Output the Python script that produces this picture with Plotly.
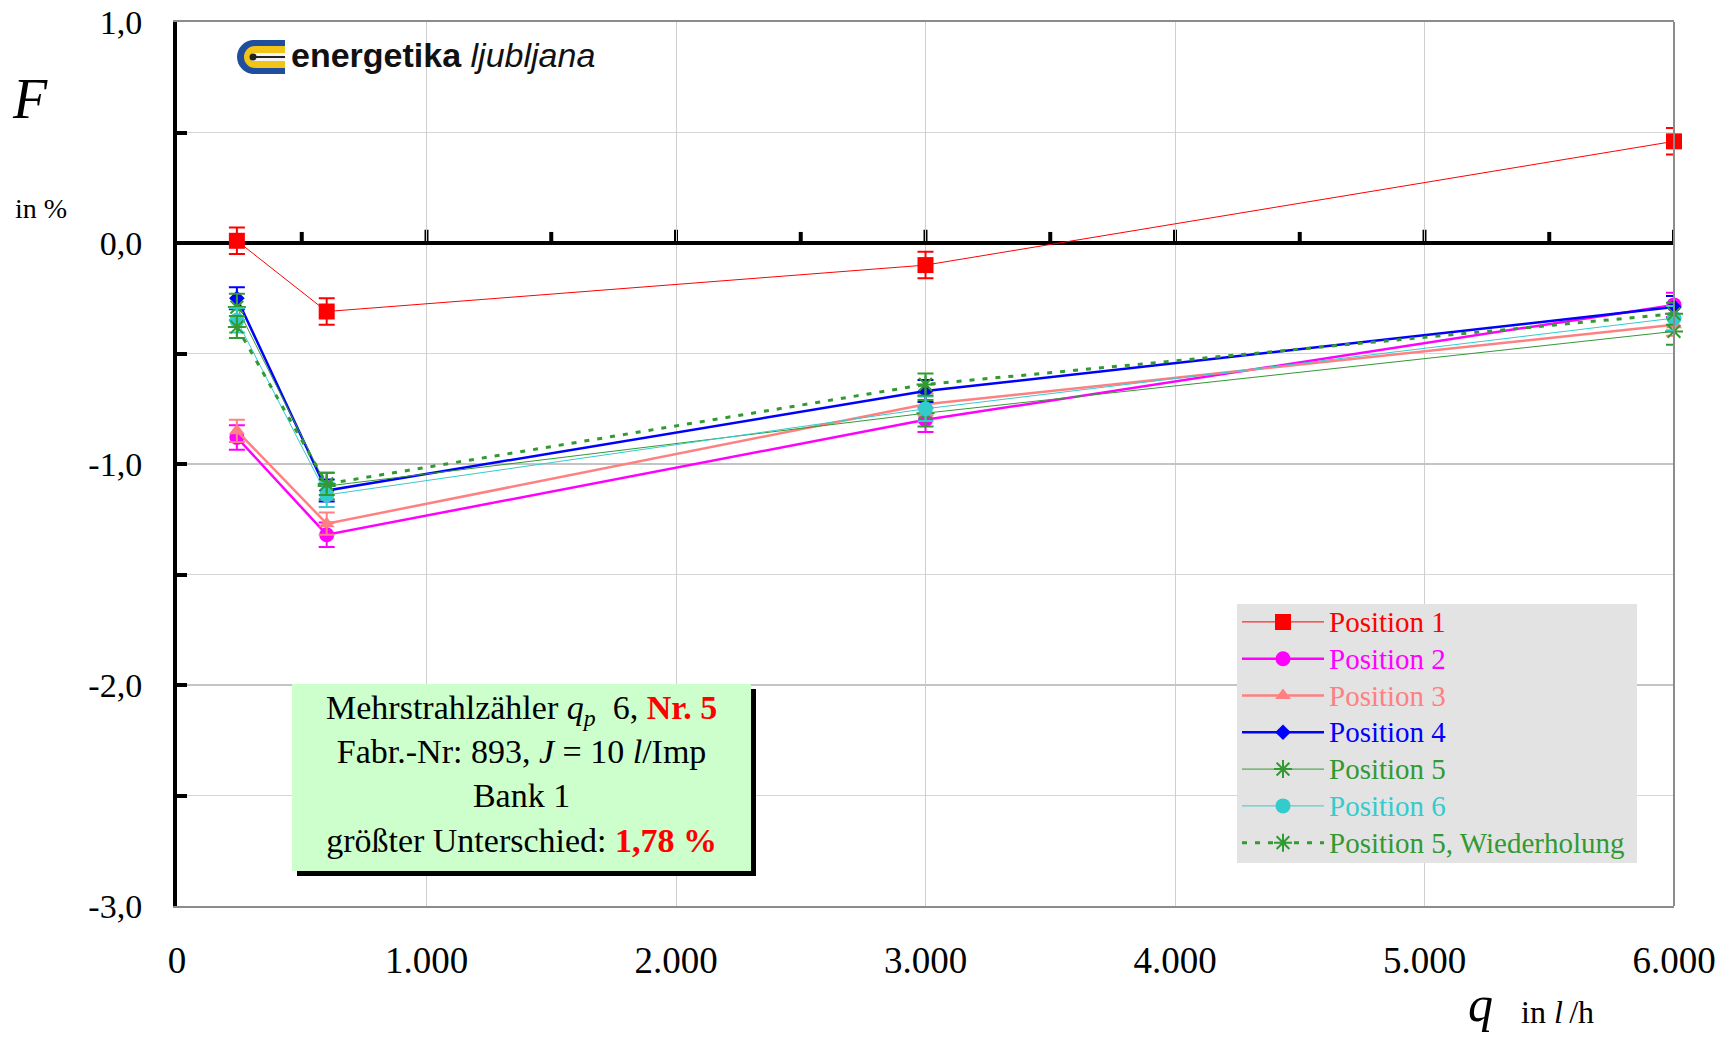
import plotly.graph_objects as go

# Flow rates q in l/h
Q = [240, 600, 3000, 6000]

# Error F in % for each meter position
POS_1 = [0.01, -0.31, -0.10, 0.46]
POS_2 = [-0.88, -1.32, -0.80, -0.28]
POS_3 = [-0.85, -1.27, -0.73, -0.37]
POS_4 = [-0.25, -1.12, -0.67, -0.29]
POS_5 = [-0.29, -1.10, -0.77, -0.40]
POS_6 = [-0.35, -1.14, -0.75, -0.34]
POS_5_REP = [-0.38, -1.09, -0.64, -0.32]

# Measurement uncertainty (+/-) per series, in %
U_1, U_2, U_3, U_4, U_5, U_6, U_5_REP = 0.06, 0.055, 0.05, 0.05, 0.06, 0.055, 0.05

SERIES_NAMES = ["Position 1", "Position 2", "Position 3", "Position 4",
                "Position 5", "Position 6", "Position 5, Wiederholung"]

X_TICKS = [0, 1000, 2000, 3000, 4000, 5000, 6000]
X_TICK_LABELS = ["0", "1.000", "2.000", "3.000", "4.000", "5.000", "6.000"]
Y_TICKS = [-3.0, -2.0, -1.0, 0.0, 1.0]
Y_TICK_LABELS = ["-3,0", "-2,0", "-1,0", "0,0", "1,0"]
ZERO_AXIS_TICKS = [500, 1000, 1500, 2000, 2500, 3000, 3500, 4000, 4500, 5000, 5500, 6000]

SERIF = "Liberation Serif, Times New Roman, serif"
SANS = "Liberation Sans, Arial, sans-serif"

# Figure and plot-area geometry (pixels)
W, H = 1733, 1038
L, R, T, B = 177, 1674, 22, 906


def px(x):
    return (x - L) / (R - L)


def py(y):
    return (B - y) / (B - T)


styles = [
    dict(color="#FF0000", width=1, dash="solid", symbol="square", size=16, u=U_1),
    dict(color="#FF00FF", width=2.5, dash="solid", symbol="circle", size=15, u=U_2),
    dict(color="#FF8080", width=2.5, dash="solid", symbol="triangle-up", size=14, u=U_3),
    dict(color="#0000FF", width=2.5, dash="solid", symbol="diamond", size=12, u=U_4),
    dict(color="#339933", width=1, dash="solid", symbol="asterisk-open", size=15, u=U_5),
    dict(color="#33CCCC", width=1, dash="solid", symbol="circle", size=15, u=U_6),
    dict(color="#339933", width=3, dash="5px,8px", symbol="asterisk-open", size=15, u=U_5_REP),
]
series = [POS_1, POS_2, POS_3, POS_4, POS_5, POS_6, POS_5_REP]

fig = go.Figure()
for name, values, st in zip(SERIES_NAMES, series, styles):
    open_marker = st["symbol"].endswith("-open")
    fig.add_trace(go.Scatter(
        x=Q, y=values, mode="lines+markers",
        name=f"<span style='color:{st['color']};font-size:29px'>{name}</span>",
        line=dict(color=st["color"], width=st["width"], dash=st["dash"]),
        marker=dict(symbol=st["symbol"], size=st["size"], color=st["color"],
                    line=dict(color=st["color"], width=2 if open_marker else 0)),
        error_y=dict(type="constant", value=st["u"], color=st["color"],
                     thickness=2, width=8),
        cliponaxis=False,
    ))

shapes = []
# tick marks along the zero line (x axis crosses at F = 0)
for xt in ZERO_AXIS_TICKS:
    h = 0.06 if xt % 1000 == 0 else 0.05
    shapes.append(dict(type="line", xref="x", yref="y", x0=xt, x1=xt, y0=0, y1=h,
                       line=dict(color="black", width=4), layer="below"))
# right frame edge
shapes.append(dict(type="line", xref="paper", yref="paper", x0=1, x1=1, y0=0, y1=1,
                   line=dict(color="#8C8C8C", width=2)))
# info box with drop shadow
shapes.append(dict(type="rect", xref="paper", yref="paper",
                   x0=px(297), x1=px(756), y0=py(876), y1=py(689),
                   fillcolor="black", line=dict(width=0)))
shapes.append(dict(type="rect", xref="paper", yref="paper",
                   x0=px(292), x1=px(751), y0=py(871), y1=py(684),
                   fillcolor="#CCFFCC", line=dict(width=0)))
# legend panel
shapes.append(dict(type="rect", xref="paper", yref="paper",
                   x0=px(1237), x1=px(1637), y0=py(863), y1=py(604),
                   fillcolor="#E3E3E3", line=dict(width=0)))


def prect(x0, y0, x1, y1, color, kind="rect"):
    return dict(type=kind, xref="paper", yref="paper",
                x0=px(x0), x1=px(x1), y0=py(y1), y1=py(y0),
                fillcolor=color, line=dict(width=0))


# company logo emblem
shapes += [
    prect(252, 40, 285, 74, "#1F4E9C"),
    prect(237, 40, 271, 74, "#1F4E9C", "circle"),
    prect(256, 46, 285, 68, "#F2C417"),
    prect(244, 46, 266, 68, "#F2C417", "circle"),
    prect(252, 53, 285, 61, "#F4F4F4"),
    dict(type="line", xref="paper", yref="paper", x0=px(253), x1=px(285),
         y0=py(57), y1=py(57), line=dict(color="#222222", width=2)),
    prect(249.5, 53.5, 256.5, 60.5, "#222222", "circle"),
]

annotations = [
    dict(text="<i>F</i>", x=px(30), y=py(99), font=dict(size=56)),
    dict(text="in %", x=px(41), y=py(208), font=dict(size=28)),
    dict(text="<i>q</i>", x=px(1480), y=py(1004), font=dict(size=50)),
    dict(text="in <i>l</i>\u2009/h", x=px(1519), y=py(1012), xanchor="left",
         font=dict(size=32)),
    dict(text="<b>energetika</b> <i>ljubljana</i>", x=px(289), y=py(55), xanchor="left",
         font=dict(family=SANS, size=34, color="#111111")),
    dict(text=("Mehrstrahlzähler <i>q</i><sub><i>p</i></sub>\u00a0\u00a06, "
               "<b><span style='color:#FF0000'>Nr. 5</span></b><br>"
               "Fabr.-Nr: 893, <i>J</i> = 10 <i>l</i>/Imp<br>"
               "Bank 1<br>"
               "größter Unterschied: <b><span style='color:#FF0000'>1,78 %</span></b>"),
         x=px(521.5), y=py(774), font=dict(size=34), align="center"),
]
for a in annotations:
    a.setdefault("xref", "paper")
    a.setdefault("yref", "paper")
    a.setdefault("showarrow", False)
    a.setdefault("xanchor", "center")
    a.setdefault("yanchor", "middle")
    a["font"].setdefault("family", SERIF)
    a["font"].setdefault("color", "black")

fig.update_layout(
    width=W, height=H,
    margin=dict(l=L, r=W - R, t=T, b=H - B, autoexpand=False),
    paper_bgcolor="white", plot_bgcolor="white",
    font=dict(family=SERIF, color="black"),
    showlegend=True,
    legend=dict(x=px(1237), y=py(598.5), xanchor="left", yanchor="top",
                bgcolor="rgba(0,0,0,0)", borderwidth=0, itemwidth=82,
                font=dict(family=SERIF, size=26), tracegroupgap=0,
                itemclick=False, itemdoubleclick=False),
    xaxis=dict(range=[0, 6000], tickvals=X_TICKS, ticktext=X_TICK_LABELS,
               showline=True, linecolor="#8C8C8C", linewidth=2, mirror=True,
               showgrid=True, gridcolor="#CFCFCF", gridwidth=1, zeroline=False,
               ticks="", tickfont=dict(family=SERIF, size=37, color="black"),
               ticklabelstandoff=21),
    yaxis=dict(range=[-3, 1], tickvals=Y_TICKS, ticktext=Y_TICK_LABELS,
               showline=True, linecolor="black", linewidth=4, mirror=False,
               ticks="inside", ticklen=10, tickwidth=4, tickcolor="black",
               minor=dict(dtick=0.5, ticks="inside", ticklen=10, tickwidth=4,
                          tickcolor="black", showgrid=True, gridcolor="#D6D6D6",
                          gridwidth=1),
               showgrid=True, gridcolor="#C4C4C4", gridwidth=1.5,
               zeroline=True, zerolinecolor="black", zerolinewidth=4,
               tickfont=dict(family=SERIF, size=34, color="black"),
               ticklabelstandoff=24),
    shapes=shapes,
    annotations=annotations,
)

fig.write_html("out.html")
